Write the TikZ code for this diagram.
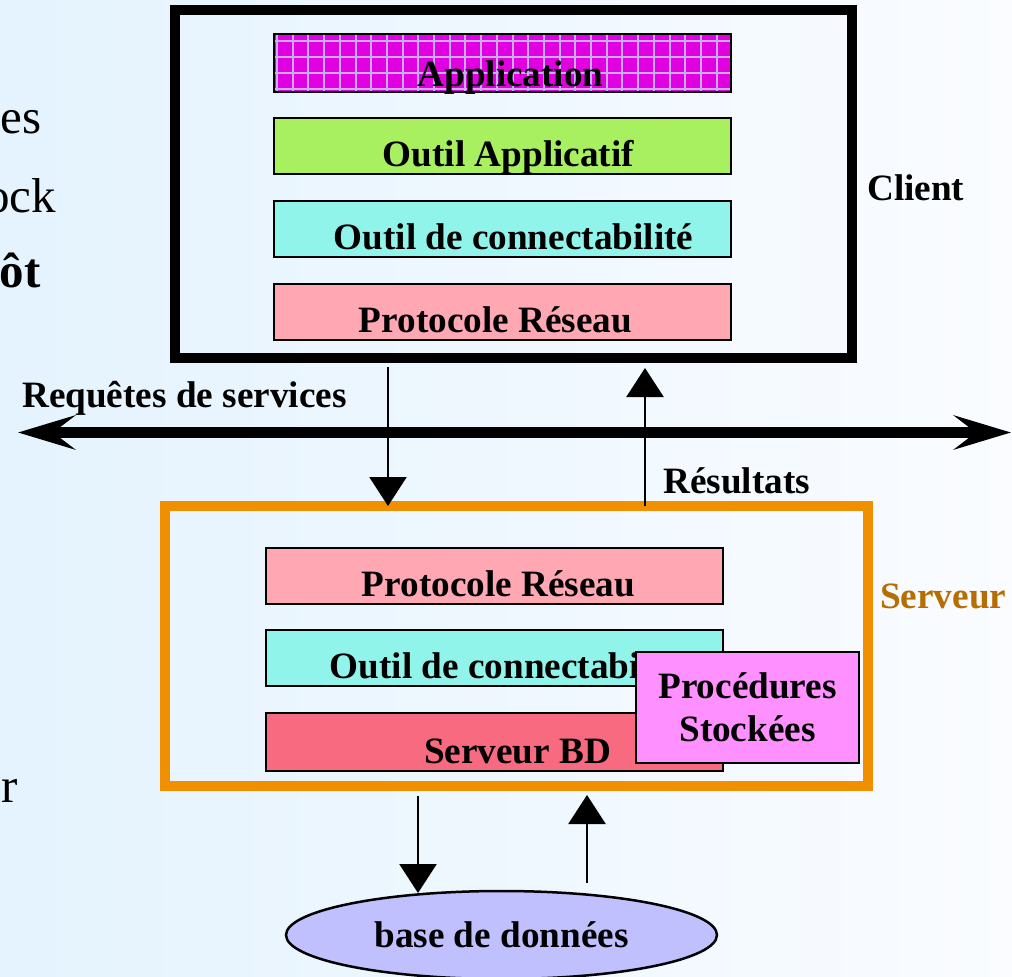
\documentclass[tikz,border=0pt]{standalone}
\usepackage{fontspec}
\setmainfont{Liberation Serif}
\usetikzlibrary{arrows.meta,shapes.geometric}

\definecolor{bgleft}{RGB}{228,243,254}
\definecolor{bgright}{RGB}{250,252,255}
\definecolor{appmag}{RGB}{224,0,224}
\definecolor{appgrid}{RGB}{200,172,255}
\definecolor{toolgreen}{RGB}{168,240,96}
\definecolor{conncyan}{RGB}{144,244,234}
\definecolor{protopink}{RGB}{255,168,180}
\definecolor{bdred}{RGB}{247,106,128}
\definecolor{procpink}{RGB}{255,144,255}
\definecolor{dbblue}{RGB}{192,192,255}
\definecolor{srvorange}{RGB}{240,144,0}
\definecolor{srvtext}{RGB}{182,110,0}

\newcommand\labfont{\fontsize{37.2}{43}\selectfont\bfseries}
\newcommand\sidefont{\fontsize{49}{52}\selectfont}
% push a label to the right (first) or left (second) inside its box
\newcommand\padleft[2]{\hspace*{#1pt}#2}
\newcommand\padright[2]{#2\hspace*{#1pt}}

\tikzset{
  layer/.style={draw, line width=2pt, inner sep=0pt, outer sep=0pt,
    minimum width=457pt, text height=48pt, text depth=8pt, font=\labfont},
  bigbox/.style={draw, line width=10pt, inner sep=0pt, outer sep=0pt},
  tag/.style={inner sep=0pt, font=\labfont},
  sidetext/.style={inner sep=0pt, font=\sidefont},
  conn/.style={line width=2.5pt, -{Triangle[length=29pt, width=37pt]}},
  bus/.style={line width=11pt,
    {Stealth[length=57pt, width=34pt, inset=22pt]}-{Stealth[length=57pt, width=34pt, inset=22pt]}},
  gridln/.style={appgrid, line width=2pt}
}

\begin{document}
\begin{tikzpicture}[x=1pt, y=-1pt]
\useasboundingbox (0,0) rectangle (1012,977);
\clip (0,0) rectangle (1012,977);
\shade[left color=bgleft, right color=bgright] (0,0) rectangle (1012,977);

% fragments of the slide text on the left
\node[sidetext, anchor=base east] (fa) at (42,133) {es};
\node[sidetext, anchor=base east] (fb) at (56,212) {ock};
\node[sidetext, anchor=base east, font=\sidefont\bfseries] (fc) at (41,287) {ôt};
\node[sidetext, anchor=base east] (fd) at (18,802) {r};

% client side
\node[bigbox, minimum width=677pt, minimum height=348pt] (client) at (513.5,184) {};
\node[layer, fill=appmag, text height=52pt, text depth=6pt,
  path picture={
    \foreach \k in {0,...,29}
      \draw[gridln] ([xshift=3pt+\k*15.7pt]path picture bounding box.north west)
        -- ([xshift=3pt+\k*15.7pt]path picture bounding box.south west);
    \foreach \k in {0,...,3}
      \draw[gridln] ([yshift=-6.5pt-\k*16pt]path picture bounding box.north west)
        -- ([yshift=-6.5pt-\k*16pt]path picture bounding box.north east);
  }] (app) at (502.5,63) {\padleft{16}{Application}};
\node[layer, fill=toolgreen] (tool) at (502.5,146) {\padleft{12}{Outil Applicatif}};
\node[layer, fill=conncyan] (cconn) at (502.5,229) {\padleft{22}{Outil de connectabilité}};
\node[layer, fill=protopink] (cproto) at (502.5,312) {\padright{14}{Protocole Réseau}};
\node[tag, anchor=base west] (clientlbl) at (867,200) {Client};

% network
\coordinate (busL) at (18,432.5);
\coordinate (busR) at (1011,432.5);
\draw[bus] (busL) -- (busR);
\node[tag, anchor=base west] (reqlbl) at (22,407) {Requêtes de services};
\node[tag, anchor=base west] (reslbl) at (663,493) {Résultats};

% server side
\node[bigbox, draw=srvorange, minimum width=703pt, minimum height=280pt] (server) at (516.5,646) {};
\node[layer, fill=protopink] (sproto) at (494.5,576) {\padleft{8}{Protocole Réseau}};
\node[layer, fill=conncyan] (sconn) at (494.5,658) {\padleft{30}{Outil de connectabilité}};
\node[layer, fill=bdred, text height=50pt] (sbd) at (494.5,742) {\padleft{46}{Serveur BD}};
\node[draw, line width=2pt, fill=procpink, inner sep=0pt, outer sep=0pt,
  minimum width=223pt, minimum height=111pt, align=center, font=\labfont]
  (proc) at (747.5,707.5) {Procédures\\Stockées};
\node[tag, anchor=base west, text=srvtext] (srvlbl) at (880,608) {Serveur};

% database
\node[ellipse, draw, line width=2.5pt, fill=dbblue, inner sep=0pt, outer sep=0pt,
  minimum width=431pt, minimum height=88pt, font=\labfont] (db) at (501.5,935) {base de données};

% requests and results
\draw[conn] ([yshift=-9pt]client.south -| 388,0) -- (server.north -| 388,0);
\draw[conn] (server.north -| 645,0) -- ([yshift=-10pt]client.south -| 645,0);
\draw[conn] ([yshift=-10pt]server.south -| 418,0) -- ([yshift=-2pt]db.north -| 418,0);
\draw[conn] ([yshift=8pt]db.north -| 587,0) -- ([yshift=-9pt]server.south -| 587,0);
\end{tikzpicture}
\end{document}
